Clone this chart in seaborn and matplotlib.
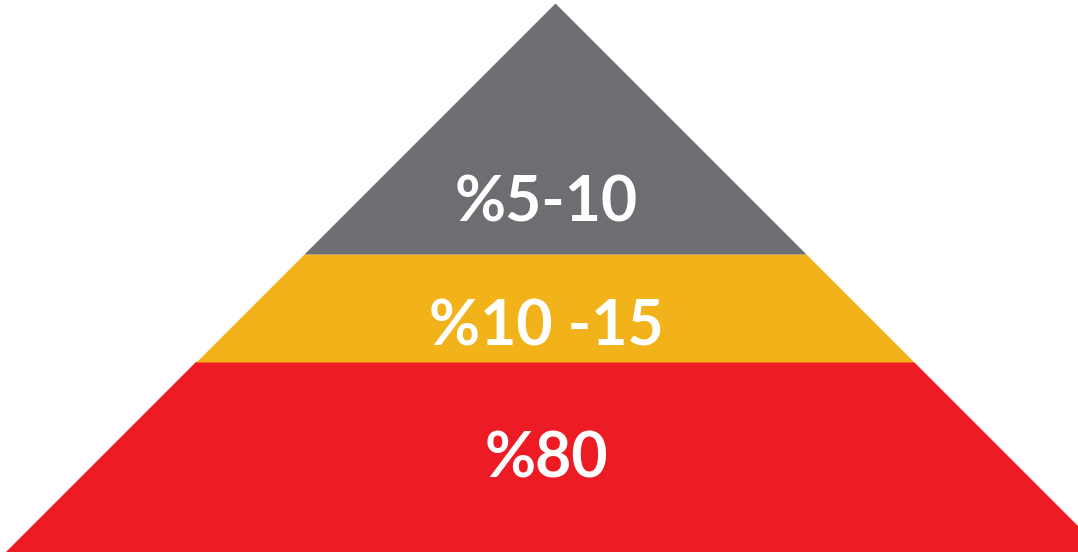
import numpy as np
import matplotlib.pyplot as plt
import seaborn as sns

# layers from bottom to top
labels = ['%80', '%10 -15', '%5-10']
heights = [190, 108, 251]
colors = ['#ED1C24', '#F2B31A', '#6D6E71']
label_y = [92, 224, 349]

sns.set_style('white')
plt.rcParams['font.family'] = ['Lato', 'DejaVu Sans']

fig = plt.figure(figsize=(10.78, 5.56), dpi=100)
ax = fig.add_axes([0, 0, 1, 1])

apex = sum(heights)
center = 555
bottoms = np.concatenate([[0], np.cumsum(heights)[:-1]])

for lab, h, b, c, ty in zip(labels, heights, bottoms, colors, label_y):
    y = np.array([b, b + h])
    half = apex - y
    ax.fill_betweenx(y, center - half, center + half, color=c, linewidth=0)
    ax.text(center - 9, ty, lab, color='white', fontsize=45, fontweight='bold',
            ha='center', va='center')

ax.set_xlim(0, 1078)
ax.set_ylim(-4, 552)
ax.axis('off')
fig.savefig('out.png', dpi=100, facecolor='white')
